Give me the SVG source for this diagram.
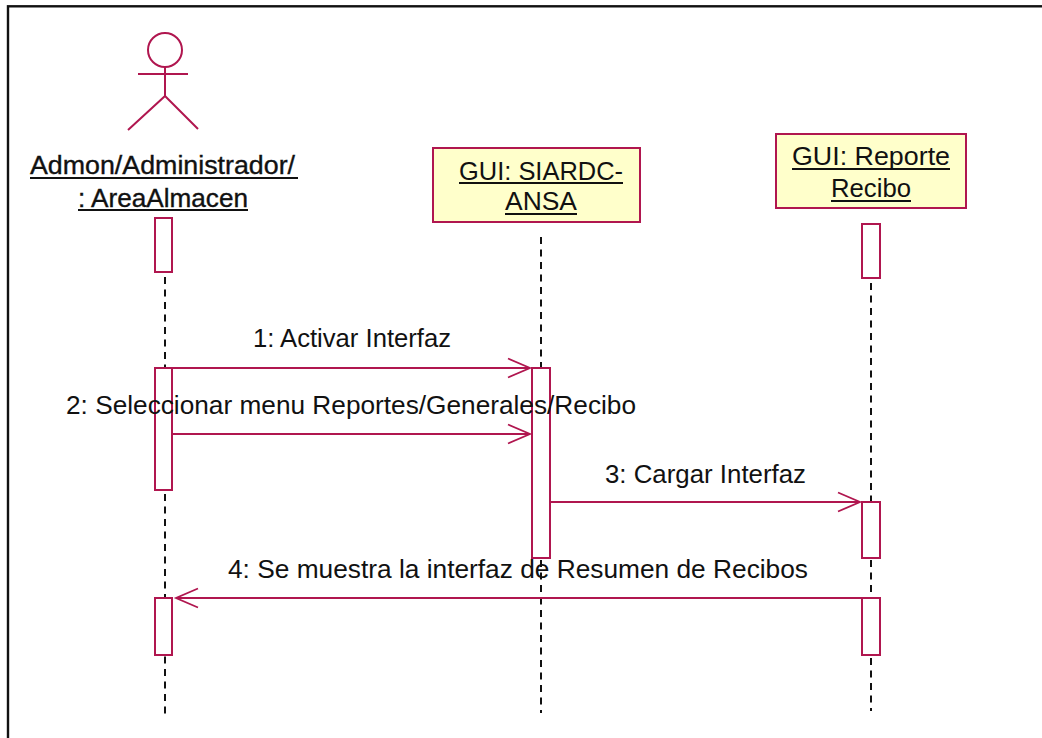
<svg xmlns="http://www.w3.org/2000/svg" width="1042" height="738" viewBox="0 0 1042 738">
<style>
.s{fill:none;stroke:#b0164f;stroke-width:2}
.b{fill:#fff;stroke:#b0164f;stroke-width:2}
.n{fill:#ffffcb;stroke:#b0164f;stroke-width:2}
.l{stroke:#111;stroke-width:2;stroke-dasharray:7 5.500;fill:none}
.m{stroke:#b0164f;stroke-width:2;fill:none}
text{font-family:"Liberation Sans",Arial,sans-serif;font-size:25px;fill:#111}
.h{font-size:26px}
.k{stroke:#111;stroke-width:.35px}
.u{stroke:#111;stroke-width:2}
</style>
<defs><marker id="a" markerUnits="userSpaceOnUse" markerWidth="26" markerHeight="24" refX="23" refY="12" orient="auto"><path d="M1 2.500L23 12L1 21.500" fill="none" stroke="#b0164f" stroke-width="1.800"/></marker></defs>
<rect x="8" y="6.300" width="1040" height="736" fill="#fff" stroke="#111" stroke-width="2.400"/>
<g id="lifelines">
<path class="l" d="M165 277V368M165 494V716"/>
<path class="l" d="M541 237V368M541 560V713"/>
<path class="l" d="M871 283V502M871 560V598M871 658V711"/>
</g>
<g id="actor"><circle class="s" cx="165" cy="50" r="17"/><path class="s" d="M138 74H188M165 67V96L128 130M165 96L198 129"/>
<text class="k" x="30" y="174" textLength="265" lengthAdjust="spacingAndGlyphs">Admon/Administrador/</text><path class="u" d="M30 178H298"/>
<text class="k" x="78" y="207" textLength="170" lengthAdjust="spacingAndGlyphs">: AreaAlmacen</text><path class="u" d="M78 210H248"/>
</g>
<g id="gui-siardc"><rect class="n" x="433" y="148" width="207" height="74"/>
<text class="h" x="459" y="180" textLength="164" lengthAdjust="spacingAndGlyphs">GUI: SIARDC-</text><path class="u" d="M459 183H623"/>
<text class="h" x="505" y="210" textLength="72" lengthAdjust="spacingAndGlyphs">ANSA</text><path class="u" d="M505 214H577"/>
</g>
<g id="gui-reporte"><rect class="n" x="776" y="134" width="190" height="74"/>
<text class="h" x="792" y="165" textLength="158" lengthAdjust="spacingAndGlyphs">GUI: Reporte</text><path class="u" d="M792 169H950"/>
<text class="h" x="831" y="197" textLength="80" lengthAdjust="spacingAndGlyphs">Recibo</text><path class="u" d="M831 201H911"/>
</g>
<g id="activations">
<rect class="b" x="155" y="218" width="17" height="54"/>
<rect class="b" x="862" y="224" width="18" height="54"/>
<rect class="b" x="155" y="368" width="17" height="122"/>
<rect class="b" x="532" y="368" width="18" height="190"/>
<rect class="b" x="862" y="502" width="18" height="56"/>
<rect class="b" x="155" y="598" width="17" height="57"/>
<rect class="b" x="862" y="598" width="18" height="57"/>
</g>
<g id="connectors">
<path class="m" marker-end="url(#a)" d="M172 368H530"/>
<path class="m" marker-end="url(#a)" d="M172 434H530"/>
<path class="m" marker-end="url(#a)" d="M550 502H860"/>
<path class="m" marker-end="url(#a)" d="M862 598H176"/>
</g>
<g id="labels">
<text x="253" y="347" textLength="198" lengthAdjust="spacingAndGlyphs">1: Activar Interfaz</text>
<text x="66" y="414" textLength="570" lengthAdjust="spacingAndGlyphs">2: Seleccionar menu Reportes/Generales/Recibo</text>
<text x="605" y="483" textLength="201" lengthAdjust="spacingAndGlyphs">3: Cargar Interfaz</text>
<text x="228" y="578" textLength="580" lengthAdjust="spacingAndGlyphs">4: Se muestra la interfaz de Resumen de Recibos</text>
</g>
</svg>
